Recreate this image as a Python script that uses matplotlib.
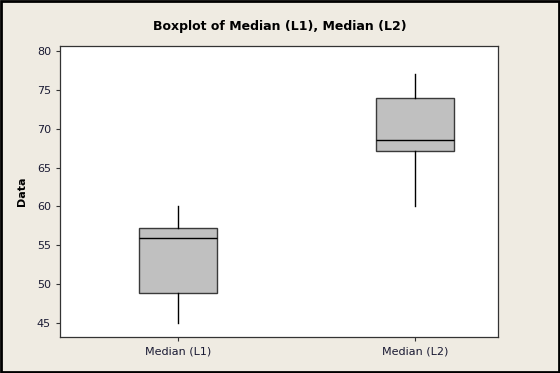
import matplotlib

matplotlib.use("Agg")

import matplotlib.pyplot as plt  # noqa: E402
from matplotlib.patches import Rectangle  # noqa: E402

# Summary stats
labels = ["Median (L1)", "Median (L2)"]
whisker_low = [45.0, 60.0]
q1 = [48.9, 67.1]
medians = [56.0, 68.55]
q3 = [57.25, 74.0]
whisker_high = [60.0, 77.0]

BG = "#EFEBE2"
TEXT = "#1a1a33"

stats = [
    {"label": lab, "whislo": lo, "q1": a, "med": m, "q3": b, "whishi": hi, "fliers": []}
    for lab, lo, a, m, b, hi in zip(labels, whisker_low, q1, medians, q3, whisker_high)
]

fig = plt.figure(figsize=(5.6, 3.73), dpi=100, facecolor=BG)
ax = fig.add_axes([0.107, 0.0965, 0.782, 0.78])

ax.bxp(
    stats,
    positions=[1, 2],
    widths=0.33,
    patch_artist=True,
    showcaps=False,
    boxprops={"facecolor": "#C0C0C0", "edgecolor": "#3a3a3a", "linewidth": 1.0},
    medianprops={"color": "black", "linewidth": 1.0},
    whiskerprops={"color": "black", "linewidth": 1.0},
)

ax.set_xlim(0.5, 2.35)
ax.set_ylim(43.2, 80.65)
ax.set_yticks([45, 50, 55, 60, 65, 70, 75, 80])
ax.set_xticks([1, 2])
ax.set_xticklabels(labels)

ax.tick_params(axis="both", direction="out", length=3, width=0.8, colors="#333333",
               labelsize=8, labelcolor=TEXT)
ax.tick_params(axis="x", pad=4)
for s in ax.spines.values():
    s.set_color("#333333")
    s.set_linewidth(0.9)

ax.set_ylabel("Data", fontsize=8, fontweight="bold", color="black", labelpad=7)
fig.text(0.5, 0.928, "Boxplot of Median (L1), Median (L2)", ha="center", va="center",
         fontsize=9, fontweight="bold", color="black")

# dark frame round the whole picture
fig.patches.append(Rectangle((0.001, 0.002), 0.997, 0.996, transform=fig.transFigure,
                             fill=False, edgecolor="black", linewidth=2))

fig.savefig("out.png", dpi=100, facecolor=BG)
plt.close(fig)
